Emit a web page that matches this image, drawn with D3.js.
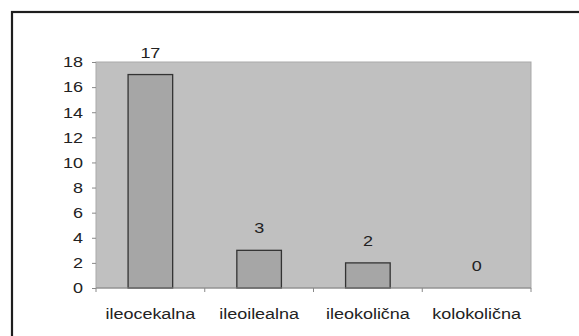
<!DOCTYPE html>
<html>
<head>
<meta charset="utf-8">
<script src="https://cdn.jsdelivr.net/npm/d3@7"></script>
<style>
  html, body { margin: 0; padding: 0; background: #fff; }
  svg { display: block; font-family: "Liberation Sans", Arial, sans-serif; }
</style>
</head>
<body>
<svg id="chart" width="579" height="336"></svg>
<script>
// Data
const categories = ["ileocekalna", "ileoilealna", "ileokolična", "kolokolična"];
const values = [17, 3, 2, 0];
const yTicks = [0, 2, 4, 6, 8, 10, 12, 14, 16, 18];

const FONT_SIZE = 15;
const STRETCH = 1.2; // horizontally widened lettering

const svg = d3.select("#chart");

// Outer frame (continues past the right and bottom edges)
svg.append("rect")
  .attr("x", 12).attr("y", 12)
  .attr("width", 600).attr("height", 400)
  .attr("fill", "#fff")
  .attr("stroke", "#1e1e1e")
  .attr("stroke-width", 2.2);

const plot = { left: 96, top: 62, right: 531, bottom: 288 };

const x = d3.scaleBand()
  .domain(categories)
  .range([plot.left, plot.right])
  .paddingInner(0.59)
  .paddingOuter(0.295);

const xBand = d3.scaleBand()
  .domain(categories)
  .range([plot.left, plot.right])
  .padding(0);

const y = d3.scaleLinear()
  .domain([0, 18])
  .range([plot.bottom, plot.top]);

// Places a widened text label at (px, py)
function label(sel, px, py) {
  sel.attr("x", 0).attr("y", 0)
    .attr("transform", (d, i) => `translate(${px(d, i)},${py(d, i)}) scale(${STRETCH},1)`)
    .attr("font-size", FONT_SIZE)
    .attr("fill", "#222");
}

// Plot background
svg.append("rect")
  .attr("x", plot.left).attr("y", plot.top)
  .attr("width", plot.right - plot.left)
  .attr("height", plot.bottom - plot.top)
  .attr("fill", "#c0c0c0")
  .attr("stroke", "#a9a9a9")
  .attr("stroke-width", 1);

// Bars
svg.append("g").selectAll("rect")
  .data(values)
  .join("rect")
  .attr("x", (d, i) => x(categories[i]))
  .attr("y", d => y(d))
  .attr("width", x.bandwidth())
  .attr("height", d => y(0) - y(d))
  .attr("fill", "#a6a6a6")
  .attr("stroke", "#333")
  .attr("stroke-width", 1.3)
  .attr("display", d => d > 0 ? null : "none");

// Value labels
svg.append("g").selectAll("text")
  .data(values)
  .join("text")
  .attr("text-anchor", "middle")
  .text(d => d)
  .call(label, (d, i) => x(categories[i]) + x.bandwidth() / 2, d => y(d) - 17);

// Y axis
const yAxis = d3.axisLeft(y)
  .tickValues(yTicks)
  .tickSize(4)
  .tickPadding(8);
const gy = svg.append("g")
  .attr("transform", `translate(${plot.left},0)`)
  .call(yAxis);
gy.select(".domain").remove();
gy.selectAll(".tick line").attr("stroke", "#888");
gy.selectAll(".tick text")
  .attr("font-size", FONT_SIZE)
  .attr("font-family", "Liberation Sans, Arial, sans-serif")
  .attr("fill", "#222")
  .attr("x", -13 / STRETCH)
  .attr("transform", `scale(${STRETCH},1)`);

// X axis line and boundary ticks
svg.append("line")
  .attr("x1", plot.left).attr("x2", plot.right)
  .attr("y1", plot.bottom).attr("y2", plot.bottom)
  .attr("stroke", "#888").attr("stroke-width", 1.2);

const bounds = categories.map(c => xBand(c)).concat([plot.right]);
svg.append("g").selectAll("line")
  .data(bounds)
  .join("line")
  .attr("x1", d => d).attr("x2", d => d)
  .attr("y1", plot.bottom).attr("y2", plot.bottom + 4)
  .attr("stroke", "#888");

// Category labels
svg.append("g").selectAll("text")
  .data(categories)
  .join("text")
  .attr("text-anchor", "middle")
  .text(d => d)
  .call(label, d => xBand(d) + xBand.bandwidth() / 2, () => 319);
</script>
</body>
</html>
